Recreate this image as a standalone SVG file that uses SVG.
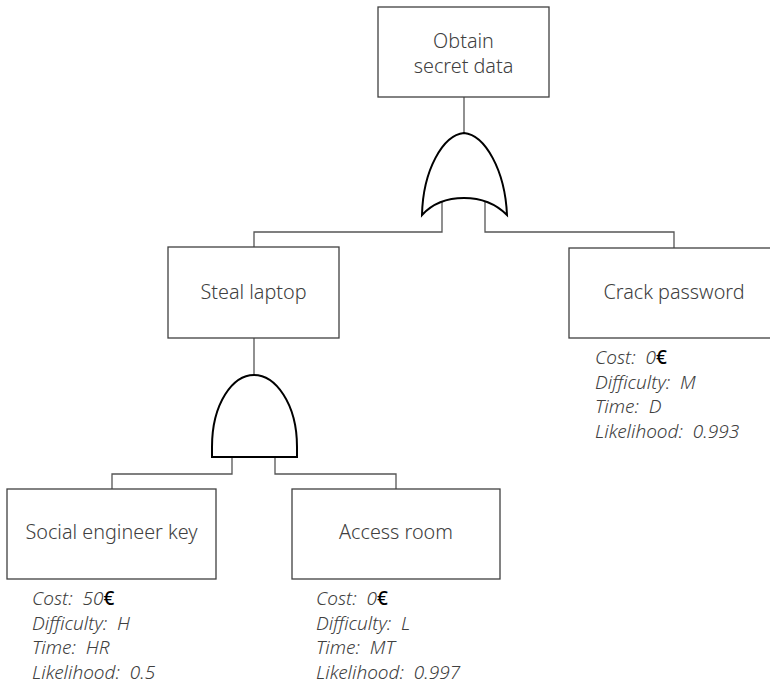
<svg xmlns="http://www.w3.org/2000/svg" width="770" height="686" viewBox="0 0 770 686">
<style>
.box{fill:#fff;stroke:#404040;stroke-width:1.3}
.lbl{font-family:"Noto Sans","Open Sans",sans-serif;font-size:19.8px;font-weight:300;fill:#404040;text-anchor:middle}
.attr{font-family:"Noto Sans","Open Sans",sans-serif;font-size:19px;font-weight:300;font-style:italic;fill:#404040;white-space:pre}
.eur{font-style:normal;fill:#000;font-weight:500}
.wire{fill:none;stroke:#555;stroke-width:1.3}
.gate{fill:#fff;stroke:#000;stroke-width:2}
</style>
<rect width="770" height="686" fill="#fff"/>
<g id="connectors">
<path class="wire" d="M464,97 V133"/>
<path class="wire" d="M442,202 V232 H254 V247"/>
<path class="wire" d="M485,202 V232 H674 V248"/>
<path class="wire" d="M254,338 V375"/>
<path class="wire" d="M232,457 V474 H112 V489"/>
<path class="wire" d="M275,457 V474 H396 V489"/>
</g>
<g id="or-gate">
<path class="gate" d="M422,215 C423,170 443,135 464,133 C485,135 505,170 507,215 C495,203 480,198 464,198 C448,198 433,203 422,215 Z"/>
</g>
<g id="and-gate">
<path class="gate" d="M212,457 L212,447 C212,403 233,375 254,375 C275,375 297,403 297,447 L297,457 Z"/>
</g>
<g id="obtain-secret-data">
<rect class="box" x="378" y="7" width="171" height="90"/>
<text class="lbl" x="463.5" y="48">Obtain</text>
<text class="lbl" x="463.5" y="73">secret data</text>
</g>
<g id="steal-laptop">
<rect class="box" x="168" y="247" width="171" height="91"/>
<text class="lbl" x="253.5" y="299">Steal laptop</text>
</g>
<g id="crack-password">
<rect class="box" x="569" y="248" width="210" height="90"/>
<text class="lbl" x="674" y="299">Crack password</text>
<text class="attr" x="595" y="364">Cost:  0<tspan class="eur">€</tspan></text>
<text class="attr" x="595" y="389">Difficulty:  M</text>
<text class="attr" x="595" y="413">Time:  D</text>
<text class="attr" x="595" y="438">Likelihood:  0.993</text>
</g>
<g id="social-engineer-key">
<rect class="box" x="7" y="489" width="209" height="90"/>
<text class="lbl" x="111.5" y="539">Social engineer key</text>
<text class="attr" x="32" y="605">Cost:  50<tspan class="eur">€</tspan></text>
<text class="attr" x="32" y="630">Difficulty:  H</text>
<text class="attr" x="32" y="654">Time:  HR</text>
<text class="attr" x="32" y="679">Likelihood:  0.5</text>
</g>
<g id="access-room">
<rect class="box" x="292" y="489" width="208" height="90"/>
<text class="lbl" x="396" y="539">Access room</text>
<text class="attr" x="316" y="605">Cost:  0<tspan class="eur">€</tspan></text>
<text class="attr" x="316" y="630">Difficulty:  L</text>
<text class="attr" x="316" y="654">Time:  MT</text>
<text class="attr" x="316" y="679">Likelihood:  0.997</text>
</g>
</svg>
